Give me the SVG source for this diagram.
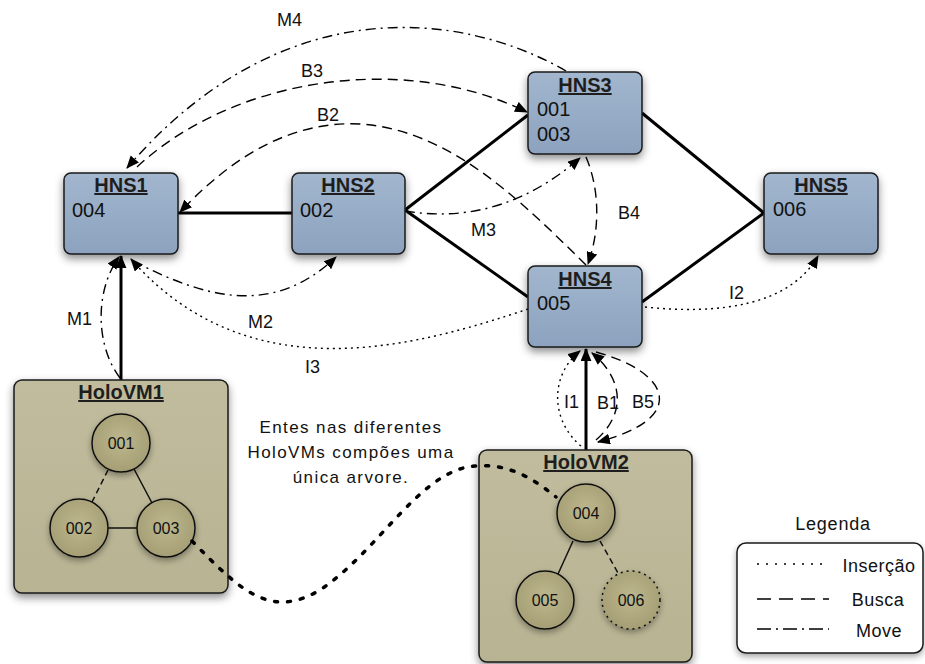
<svg xmlns="http://www.w3.org/2000/svg" width="925" height="664" viewBox="0 0 925 664">
<defs>
<linearGradient id="gHns" x1="0" y1="0" x2="0" y2="1"><stop offset="0" stop-color="#a2b6ce"/><stop offset="1" stop-color="#8ca2be"/></linearGradient>
<linearGradient id="gVm" x1="0" y1="0" x2="0" y2="1"><stop offset="0" stop-color="#c0bc9d"/><stop offset="1" stop-color="#b8b392"/></linearGradient>
<radialGradient id="gEnt" cx="0.5" cy="0.45" r="0.6"><stop offset="0" stop-color="#bdb78f"/><stop offset="1" stop-color="#a39c72"/></radialGradient>
<filter id="sh" x="-20%" y="-20%" width="140%" height="150%"><feDropShadow dx="0" dy="4" stdDeviation="4" flood-color="#000" flood-opacity="0.45"/></filter>
<filter id="shs" x="-30%" y="-30%" width="160%" height="170%"><feDropShadow dx="0" dy="3" stdDeviation="3" flood-color="#000" flood-opacity="0.35"/></filter>
<marker id="ar" viewBox="0 0 12 10" refX="11" refY="5" markerWidth="13" markerHeight="11" markerUnits="userSpaceOnUse" orient="auto"><path d="M0,0 L12,5 L0,10 Z" fill="#000"/></marker>
</defs>
<style>
.hns{fill:url(#gHns);stroke:#1a1a1a;stroke-width:1.5;filter:url(#sh)}
.vm{fill:url(#gVm);stroke:#1a1a1a;stroke-width:1.5;filter:url(#sh)}
.ent{fill:url(#gEnt);stroke:#111;stroke-width:1.5;filter:url(#shs)}
.ttl{font-family:"Liberation Sans",Arial,sans-serif;font-weight:bold;font-size:20px;fill:#1e1e1e;text-anchor:middle;text-decoration:underline}
.val{font-family:"Liberation Sans",Arial,sans-serif;font-size:20px;fill:#111}
.num{font-family:"Liberation Sans",Arial,sans-serif;font-size:16px;fill:#111;text-anchor:middle}
.lbl{font-family:"Liberation Sans",Arial,sans-serif;font-size:18px;fill:#111}
.txt{font-family:"Liberation Sans",Arial,sans-serif;font-size:17px;fill:#111;text-anchor:middle;letter-spacing:1.4px}
.solid{fill:none;stroke:#000;stroke-width:3}
.ins{fill:none;stroke:#000;stroke-width:1.4;stroke-dasharray:2 4}
.bus{fill:none;stroke:#000;stroke-width:1.4;stroke-dasharray:10 6}
.mov{fill:none;stroke:#000;stroke-width:1.4;stroke-dasharray:10 5 2 5}
.thin{fill:none;stroke:#111;stroke-width:1.5}
.lg-ins{stroke-dasharray:2 7}
.lg-bus{stroke-dasharray:14 8}
.lg-mov{stroke-dasharray:14 5 2 5}
</style>
<rect width="925" height="664" fill="#fff"/>

<g id="connectors">
<path class="solid" d="M292,213 L178,213"/>
<path class="solid" d="M405,210 L528,115"/>
<path class="solid" d="M405,210 L528,297"/>
<path class="solid" d="M642,113 L764,213"/>
<path class="solid" d="M642,302 L764,213"/>
<path class="solid" d="M121,380 L121,256" marker-end="url(#ar)"/>
<path class="solid" d="M586,450 L586,349" marker-end="url(#ar)"/>
<path class="mov" d="M566,71 C460,10 280,-10 127,168" marker-end="url(#ar)"/>
<path class="bus" d="M137,167 C230,80 400,50 527,112" marker-end="url(#ar)"/>
<path class="bus" d="M586,265 C520,200 450,130 360,124 C280,120 220,170 180,212" marker-end="url(#ar)"/>
<path class="mov" d="M405,211 C460,220 520,210 580,158" marker-end="url(#ar)"/>
<path class="bus" d="M586,157 C600,190 600,230 588,264" marker-end="url(#ar)"/>
<path class="mov" d="M133,261 C200,295 270,320 336,257" marker-end="url(#ar)"/>
<path class="ins" d="M528,309 C420,345 250,395 131,259" marker-end="url(#ar)"/>
<path class="ins" d="M645,307 C720,315 790,305 818,256" marker-end="url(#ar)"/>
<path class="mov" d="M120,378 C95,345 95,290 119,257" marker-end="url(#ar)"/>
<path class="ins" d="M581,446 C550,420 550,375 580,351" marker-end="url(#ar)"/>
<path class="bus" d="M596,440 C625,415 625,380 592,353" marker-end="url(#ar)"/>
<path class="bus" d="M596,352 C670,372 690,418 598,442" marker-end="url(#ar)"/>
</g>

<g id="HNS1"><rect class="hns" x="64" y="173" width="114" height="81" rx="7"/><text class="ttl" x="121" y="192">HNS1</text><text class="val" x="72" y="217">004</text></g>
<g id="HNS2"><rect class="hns" x="292" y="173" width="113" height="81" rx="7"/><text class="ttl" x="348" y="192">HNS2</text><text class="val" x="300" y="217">002</text></g>
<g id="HNS3"><rect class="hns" x="528" y="72" width="114" height="82" rx="7"/><text class="ttl" x="585" y="92">HNS3</text><text class="val" x="537" y="116">001</text><text class="val" x="537" y="141">003</text></g>
<g id="HNS4"><rect class="hns" x="528" y="266" width="114" height="81" rx="7"/><text class="ttl" x="585" y="286">HNS4</text><text class="val" x="537" y="310">005</text></g>
<g id="HNS5"><rect class="hns" x="764" y="173" width="114" height="81" rx="7"/><text class="ttl" x="821" y="192">HNS5</text><text class="val" x="773" y="216">006</text></g>

<g id="HoloVM1">
<rect class="vm" x="14" y="380" width="214" height="213" rx="8"/>
<text class="ttl" x="121" y="399">HoloVM1</text>
<line class="thin" x1="108" y1="470" x2="92" y2="502" stroke-dasharray="6 4"/>
<line class="thin" x1="134" y1="469" x2="152" y2="503"/>
<line class="thin" x1="108" y1="528" x2="137" y2="528"/>
<g id="e001"><circle class="ent" cx="121" cy="443" r="29"/><text class="num" x="121" y="449">001</text></g>
<g id="e002"><circle class="ent" cx="79" cy="528" r="29"/><text class="num" x="79" y="534">002</text></g>
<g id="e003"><circle class="ent" cx="166" cy="528" r="29"/><text class="num" x="166" y="534">003</text></g>
</g>

<g id="HoloVM2">
<rect class="vm" x="479" y="450" width="213" height="212" rx="8"/>
<text class="ttl" x="586" y="469">HoloVM2</text>
<line class="thin" x1="573" y1="541" x2="558" y2="574"/>
<line class="thin" x1="600" y1="541" x2="618" y2="573" stroke-dasharray="6 4"/>
<g id="e004"><circle class="ent" cx="586" cy="513" r="29"/><text class="num" x="586" y="519">004</text></g>
<g id="e005"><circle class="ent" cx="545" cy="600" r="29"/><text class="num" x="545" y="606">005</text></g>
<g id="e006"><circle class="ent" cx="631" cy="600" r="29" stroke-dasharray="2 4"/><text class="num" x="631" y="606">006</text></g>
</g>

<path id="tree-link" d="M192,541 C240,590 270,620 320,590 C380,550 420,470 475,466 C510,463 535,480 556,497" fill="none" stroke="#000" stroke-width="3.5" stroke-linecap="round" stroke-dasharray="3 10"/>

<g id="labels">
<text class="lbl" x="277" y="26">M4</text>
<text class="lbl" x="301" y="77">B3</text>
<text class="lbl" x="317" y="121">B2</text>
<text class="lbl" x="471" y="236">M3</text>
<text class="lbl" x="618" y="219">B4</text>
<text class="lbl" x="67" y="325">M1</text>
<text class="lbl" x="248" y="328">M2</text>
<text class="lbl" x="305" y="373">I3</text>
<text class="lbl" x="729" y="299">I2</text>
<text class="lbl" x="564" y="408">I1</text>
<text class="lbl" x="597" y="409">B1</text>
<text class="lbl" x="632" y="408">B5</text>
</g>

<g id="note">
<text class="txt" x="351" y="433">Entes nas diferentes</text>
<text class="txt" x="351" y="458">HoloVMs compões uma</text>
<text class="txt" x="351" y="483">única arvore.</text>
</g>

<g id="legend">
<text class="lbl" x="833" y="530" text-anchor="middle" font-size="19" letter-spacing="0.8">Legenda</text>
<rect x="737" y="543" width="186" height="110" rx="9" fill="#fff" stroke="#1a1a1a" stroke-width="1.5" filter="url(#shs)"/>
<line class="ins lg-ins" x1="757" y1="564" x2="829" y2="564"/>
<line class="bus lg-bus" x1="757" y1="599" x2="829" y2="599"/>
<line class="mov lg-mov" x1="757" y1="629" x2="829" y2="629"/>
<text class="lbl" x="879" y="572" text-anchor="middle" font-size="19" letter-spacing="0.5">Inserção</text>
<text class="lbl" x="878" y="606" text-anchor="middle" font-size="19" letter-spacing="0.5">Busca</text>
<text class="lbl" x="879" y="637" text-anchor="middle" font-size="19" letter-spacing="0.5">Move</text>
</g>
</svg>
